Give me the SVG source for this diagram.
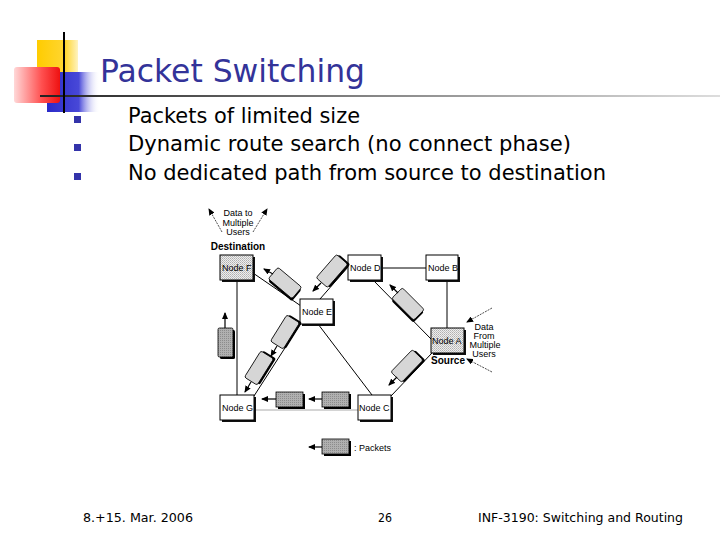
<svg xmlns="http://www.w3.org/2000/svg" width="720" height="540" viewBox="0 0 720 540">
<style>
.ttl{font-family:"DejaVu Sans","Liberation Sans",sans-serif;fill:#333399;font-size:32px}
.body{font-family:"DejaVu Sans","Liberation Sans",sans-serif;font-size:21px;fill:#000}
.foot{font-family:"DejaVu Sans","Liberation Sans",sans-serif;font-size:13px;fill:#000}
.lbl{font-family:"Liberation Sans",Arial,sans-serif;font-size:9px;fill:#000}
.sm{font-family:"Liberation Sans",Arial,sans-serif;font-size:9px;fill:#000}
.bold{font-weight:bold;font-size:10px}
.box{fill:#fff;stroke:#000;stroke-width:1}
.stip{fill:url(#dots);stroke:#000;stroke-width:1}
.shd{fill:#111}
.ln{stroke:#000;stroke-width:1;fill:none}
.pk{fill:#d6d6d6;stroke:#000;stroke-width:0.8}
.pkd{fill:url(#dotsd);stroke:#000;stroke-width:0.8}
.pks{fill:#000}
.arr{stroke:#000;stroke-width:1.2;fill:none;marker-end:url(#ah)}
.ann{stroke:#222;stroke-width:0.8;fill:none;stroke-dasharray:2 1;marker-end:url(#ah)}
</style>
<defs>
<pattern id="dots" width="2" height="2" patternUnits="userSpaceOnUse">
<rect width="2" height="2" fill="#eeeeee"/><rect width="1" height="1" fill="#b0b0b0"/><rect x="1" y="1" width="1" height="1" fill="#c4c4c4"/>
</pattern>
<pattern id="dotsd" width="2" height="2" patternUnits="userSpaceOnUse">
<rect width="2" height="2" fill="#b0b0b0"/><rect width="1" height="1" fill="#8c8c8c"/>
</pattern>
<marker id="ah" markerWidth="7" markerHeight="6" refX="6" refY="3" orient="auto" markerUnits="userSpaceOnUse">
<path d="M0,0 L7,3 L0,6 z" fill="#000"/>
</marker>
<linearGradient id="gy" x1="0" y1="0" x2="1" y2="0"><stop offset="0" stop-color="#ffcc00"/><stop offset="0.7" stop-color="#ffd633"/><stop offset="1" stop-color="#fff3c0"/></linearGradient>
<linearGradient id="gr" x1="0" y1="0" x2="1" y2="0"><stop offset="0" stop-color="#ffd8d8"/><stop offset="0.6" stop-color="#ff5050"/><stop offset="1" stop-color="#ee1111"/></linearGradient>
<linearGradient id="gb" x1="0" y1="0" x2="1" y2="0"><stop offset="0" stop-color="#2a2ac8"/><stop offset="0.6" stop-color="#4848d8"/><stop offset="1" stop-color="#ffffff" stop-opacity="0"/></linearGradient>
<linearGradient id="gl" x1="0" y1="0" x2="1" y2="0"><stop offset="0" stop-color="#222"/><stop offset="0.5" stop-color="#888"/><stop offset="1" stop-color="#ddd"/></linearGradient>
</defs>
<rect width="720" height="540" fill="#fff"/>
<g id="decor">
<rect x="37" y="40" width="41" height="40" fill="url(#gy)"/>
<rect x="47" y="72" width="53" height="40" fill="url(#gb)"/>
<rect x="14" y="67" width="46" height="36" fill="url(#gr)" rx="3"/>
<rect x="40" y="95" width="680" height="2" fill="url(#gl)"/>
<rect x="63" y="32" width="2" height="81" fill="#000"/>
</g>
<text class="ttl" x="100" y="82" textLength="265" lengthAdjust="spacingAndGlyphs">Packet Switching</text>
<g id="bullets" fill="#3333aa">
<rect x="74" y="116" width="7" height="7"/>
<rect x="74" y="144" width="7" height="7"/>
<rect x="74" y="173" width="7" height="7"/>
</g>
<text class="body" x="128" y="123" textLength="232" lengthAdjust="spacingAndGlyphs">Packets of limited size</text>
<text class="body" x="128" y="151" textLength="443" lengthAdjust="spacingAndGlyphs">Dynamic route search (no connect phase)</text>
<text class="body" x="128" y="180" textLength="478" lengthAdjust="spacingAndGlyphs">No dedicated path from source to destination</text>

<g id="connectors">
<line class="ln" x1="237" y1="280" x2="237" y2="395"/>
<line class="ln" x1="253" y1="273" x2="301" y2="306"/>
<line class="ln" x1="320" y1="299" x2="348" y2="267"/>
<line class="ln" x1="381" y1="268" x2="426" y2="268"/>
<line class="ln" x1="373" y1="280" x2="432" y2="340"/>
<line class="ln" x1="447" y1="280" x2="447" y2="328"/>
<line class="ln" x1="301" y1="323" x2="254" y2="396"/>
<line class="ln" x1="318" y1="324" x2="372" y2="395"/>
<line x1="254" y1="410" x2="358" y2="410" stroke="#aaa" stroke-width="1"/>
<line class="ln" x1="432" y1="353" x2="391" y2="396"/>
</g>

<g id="nodeF"><rect class="shd" x="222" y="257" width="33" height="25"/><rect class="stip" x="220" y="255" width="33" height="25"/><text class="lbl" x="222" y="271">Node F</text></g>
<g id="nodeD"><rect class="shd" x="350" y="257" width="33" height="25"/><rect class="box" x="348" y="255" width="33" height="25"/><text class="lbl" x="350" y="271">Node D</text></g>
<g id="nodeB"><rect class="shd" x="428" y="257" width="32" height="25"/><rect class="box" x="426" y="255" width="32" height="25"/><text class="lbl" x="428" y="271">Node B</text></g>
<g id="nodeE"><rect class="shd" x="302" y="301" width="33" height="25"/><rect class="box" x="300" y="299" width="33" height="25"/><text class="lbl" x="302" y="315">Node E</text></g>
<g id="nodeA"><rect class="shd" x="433" y="330" width="33" height="25"/><rect class="stip" x="431" y="328" width="33" height="25"/><text class="lbl" x="432" y="344">Node A</text></g>
<g id="nodeG"><rect class="shd" x="222" y="397" width="34" height="25"/><rect class="box" x="220" y="395" width="34" height="25"/><text class="lbl" x="222" y="411">Node G</text></g>
<g id="nodeC"><rect class="shd" x="360" y="397" width="33" height="25"/><rect class="box" x="358" y="395" width="33" height="25"/><text class="lbl" x="359" y="411">Node C</text></g>

<g id="packets">
<g transform="translate(285,283) rotate(40)"><rect class="pks" x="-14" y="-5.5" width="31" height="15" rx="2"/><rect class="pk" x="-15.5" y="-7.5" width="31" height="15" rx="2"/></g>
<line class="arr" x1="273" y1="274" x2="264" y2="269"/>
<g transform="translate(332,271) rotate(-49)"><rect class="pks" x="-14" y="-5.5" width="31" height="15" rx="2"/><rect class="pk" x="-15.5" y="-7.5" width="31" height="15" rx="2"/></g>
<line class="arr" x1="321" y1="283" x2="313" y2="291"/>
<g transform="translate(408,304) rotate(45)"><rect class="pks" x="-14" y="-5.5" width="31" height="15" rx="2"/><rect class="pk" x="-15.5" y="-7.5" width="31" height="15" rx="2"/></g>
<line class="arr" x1="398" y1="293" x2="390" y2="285"/>
<g transform="translate(407,366) rotate(-46)"><rect class="pks" x="-14" y="-5.5" width="31" height="15" rx="2"/><rect class="pk" x="-15.5" y="-7.5" width="31" height="15" rx="2"/></g>
<line class="arr" x1="397" y1="377" x2="389" y2="385"/>
<g transform="translate(285,332) rotate(-58)"><rect class="pks" x="-14" y="-5.5" width="31" height="15" rx="2"/><rect class="pk" x="-15.5" y="-7.5" width="31" height="15" rx="2"/></g>
<line class="arr" x1="277" y1="346" x2="271" y2="356"/>
<g transform="translate(259,368) rotate(-58)"><rect class="pks" x="-14" y="-5.5" width="31" height="15" rx="2"/><rect class="pk" x="-15.5" y="-7.5" width="31" height="15" rx="2"/></g>
<line class="arr" x1="251" y1="382" x2="245" y2="392"/>
<rect class="pks" x="220" y="330" width="15" height="29" rx="1.5"/><rect class="pkd" x="218" y="328" width="15" height="29" rx="1.5"/>
<line class="arr" x1="225" y1="328" x2="225" y2="313"/>
<rect class="pks" x="278" y="394" width="27" height="15"/><rect class="pkd" x="276" y="392" width="27" height="15"/>
<line class="arr" x1="276" y1="399" x2="262" y2="399"/>
<rect class="pks" x="324" y="394" width="27" height="15"/><rect class="pkd" x="322" y="392" width="27" height="15"/>
<line class="arr" x1="322" y1="399" x2="309" y2="399"/>
</g>

<g id="annotations">
<line class="ann" x1="222" y1="232" x2="209" y2="209"/>
<line class="ann" x1="253" y1="232" x2="267" y2="209"/>
<text class="sm" x="238" y="216" text-anchor="middle">Data to</text>
<text class="sm" x="238" y="226" text-anchor="middle">Multiple</text>
<text class="sm" x="238" y="235" text-anchor="middle">Users</text>
<text class="sm bold" x="238" y="250" text-anchor="middle">Destination</text>
<line class="ann" x1="492" y1="308" x2="467" y2="322"/>
<line class="ann" x1="492" y1="372" x2="467" y2="359"/>
<text class="sm" x="484" y="330" text-anchor="middle">Data</text>
<text class="sm" x="484" y="339" text-anchor="middle">From</text>
<text class="sm" x="485" y="348" text-anchor="middle">Multiple</text>
<text class="sm" x="484" y="357" text-anchor="middle">Users</text>
<text class="sm bold" x="448" y="364" text-anchor="middle">Source</text>
</g>

<g id="legend">
<line class="arr" x1="322" y1="447" x2="309" y2="447"/>
<rect class="pks" x="324" y="441" width="27" height="15"/><rect class="pkd" x="322" y="439" width="27" height="15"/>
<text class="sm" x="354" y="451" font-size="10">: Packets</text>
</g>

<text class="foot" x="83" y="522" textLength="110" lengthAdjust="spacingAndGlyphs">8.+15. Mar. 2006</text>
<text class="foot" x="378" y="522" textLength="14" lengthAdjust="spacingAndGlyphs">26</text>
<text class="foot" x="478" y="522" textLength="205" lengthAdjust="spacingAndGlyphs">INF-3190: Switching and Routing</text>
</svg>
